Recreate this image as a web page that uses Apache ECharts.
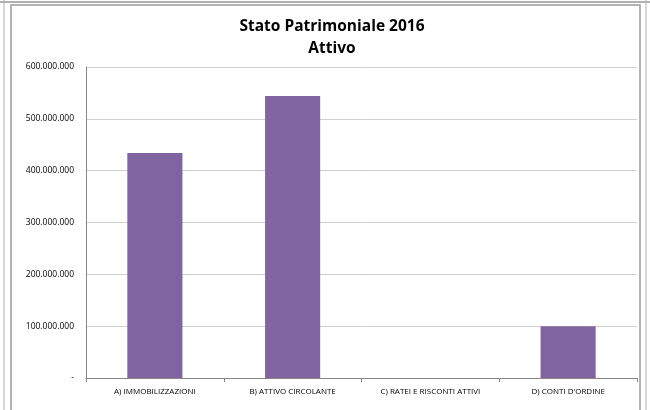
<!DOCTYPE html>
<html>
<head>
<meta charset="utf-8">
<script src="https://cdn.jsdelivr.net/npm/echarts@6/dist/echarts.min.js"></script>
<style>
html,body{margin:0;padding:0;background:#fff;}
#c{width:650px;height:410px;}
</style>
</head>
<body>
<div id="c"></div>
<script>
const categories = ['A) IMMOBILIZZAZIONI', 'B) ATTIVO CIRCOLANTE', 'C) RATEI E RISCONTI ATTIVI', "D) CONTI D'ORDINE"];
const values = [434000000, 544000000, 0, 100000000];
const titleText = 'Stato Patrimoniale 2016\nAttivo';

function fmt(v) {
  if (v === 0) return '-';
  return String(Math.round(v)).replace(/\B(?=(\d{3})+(?!\d))/g, '.');
}

const chart = echarts.init(document.getElementById('c'));
chart.setOption({
  backgroundColor: '#ffffff',
  animation: false,
  title: {
    text: titleText,
    left: 327,
    top: 11,
    textAlign: 'center',
    textStyle: {
      fontFamily: 'Open Sans, sans-serif',
      fontWeight: 'bold',
      fontSize: 15.5,
      color: '#000',
      lineHeight: 22
    }
  },
  graphic: [
    { type: 'rect', shape: { x: 11, y: 5, width: 629, height: 410 }, style: { fill: 'none', stroke: '#9a9a9a', lineWidth: 1.5 } },
    { type: 'line', shape: { x1: 0, y1: 2, x2: 650, y2: 2 }, style: { stroke: '#b0b0b0', lineWidth: 2 } },
    { type: 'line', shape: { x1: 4, y1: 0, x2: 4, y2: 410 }, style: { stroke: '#b0b0b0', lineWidth: 1 } },
    { type: 'line', shape: { x1: 646, y1: 0, x2: 646, y2: 410 }, style: { stroke: '#b0b0b0', lineWidth: 1 } }
  ],
  grid: { left: 86, right: 13, top: 67, bottom: 32 },
  xAxis: {
    type: 'category',
    data: categories,
    axisLine: { lineStyle: { color: '#868686', width: 1 } },
    axisTick: { show: true, length: 4, lineStyle: { color: '#868686' } },
    axisLabel: { fontFamily: 'Open Sans, sans-serif', fontSize: 8, color: '#000', margin: 10, interval: 0 }
  },
  yAxis: {
    type: 'value',
    min: 0,
    max: 600000000,
    interval: 100000000,
    axisLine: { show: true, lineStyle: { color: '#868686', width: 1 } },
    axisTick: { show: false },
    splitLine: { lineStyle: { color: '#d0d0d0', width: 1 } },
    axisLabel: { formatter: fmt, fontFamily: 'Open Sans, sans-serif', fontSize: 8.5, color: '#000', margin: 12 }
  },
  series: [{
    type: 'bar',
    data: values,
    barWidth: '40%',
    itemStyle: { color: '#8064a2' }
  }]
});
</script>
</body>
</html>
